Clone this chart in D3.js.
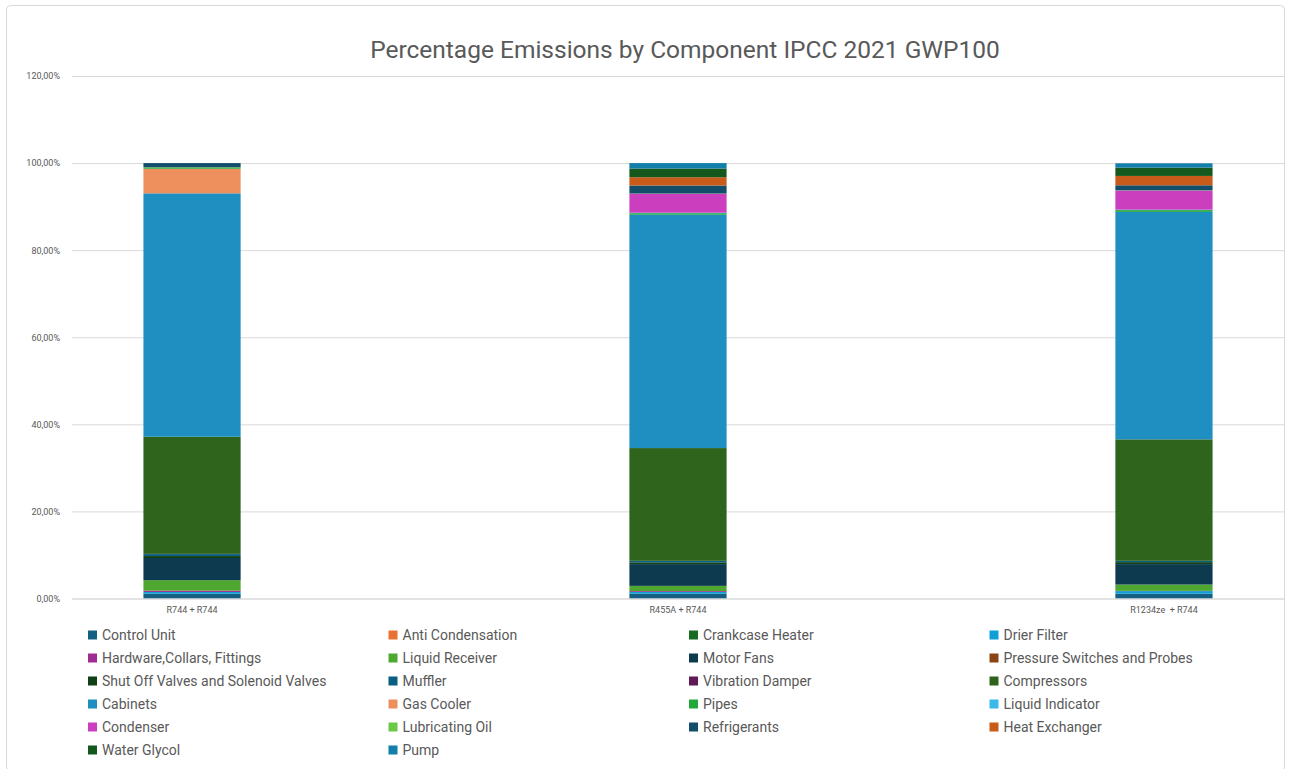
<!DOCTYPE html>
<html>
<head>
<meta charset="utf-8">
<script src="https://cdn.jsdelivr.net/npm/d3@7"></script>
<style>
  html, body { margin: 0; padding: 0; background: #ffffff; }
  svg { display: block; }
  text { font-family: Roboto, "Liberation Sans", sans-serif; fill: #595959; }
</style>
</head>
<body>
<svg id="chart" width="1290" height="769"></svg>
<script>
// Systems compared
const categories = ["R744 + R744", "R455A + R744", "R1234ze  + R744"];

// Components, in stacking order (bottom to top)
const components = [
  "Control Unit", "Anti Condensation", "Crankcase Heater", "Drier Filter",
  "Hardware,Collars, Fittings", "Liquid Receiver", "Motor Fans", "Pressure Switches and Probes",
  "Shut Off Valves and Solenoid Valves", "Muffler", "Vibration Damper", "Compressors",
  "Cabinets", "Gas Cooler", "Pipes", "Liquid Indicator",
  "Condenser", "Lubricating Oil", "Refrigerants", "Heat Exchanger",
  "Water Glycol", "Pump"
];

// Share of emissions per component (%), same order as components
const r744Shares = [
  1.1, 0, 0, 0.4,
  0.3, 2.4, 5.1, 0,
  0.45, 0.45, 0.05, 26.9,
  55.9, 5.65, 0.3, 0,
  0, 0.05, 0.95, 0,
  0, 0
];
const r455aShares = [
  1.1, 0, 0, 0.4,
  0.2, 1.2, 5.0, 0,
  0.4, 0.35, 0, 25.9,
  53.6, 0, 0.35, 0.1,
  4.35, 0.05, 1.85, 1.9,
  2.0, 1.25
];
const r1234zeShares = [
  1.1, 0, 0, 0.6,
  0.05, 1.45, 4.7, 0,
  0.45, 0.3, 0, 27.9,
  52.25, 0, 0.4, 0.1,
  4.4, 0.05, 1.15, 2.15,
  1.9, 1.0
];

const yTicks = [0, 20, 40, 60, 80, 100, 120];

// Series colours
const componentColors = [
  "#156082", "#E97132", "#196B24", "#0F9ED5",
  "#A02B93", "#4EA72E", "#0E3A4F", "#8B4413",
  "#0F4016", "#095F80", "#601A58", "#2F641C",
  "#1F8FC2", "#EE8F5E", "#22A83A", "#3CB9EB",
  "#CB3FBF", "#6BC948", "#124E6A", "#C85A1A",
  "#15581D", "#127FAB"
];

const svg = d3.select("#chart");
const W = 1290, H = 769;

// chart frame
svg.append("rect")
  .attr("x", 6.5).attr("y", 5.5)
  .attr("width", W - 12).attr("height", H - 4)
  .attr("rx", 4)
  .attr("fill", "#ffffff")
  .attr("stroke", "#d9d9d9");

// title
svg.append("text")
  .attr("x", 685).attr("y", 58)
  .attr("text-anchor", "middle")
  .style("font-size", "24.5px")
  .text("Percentage Emissions by Component IPCC 2021 GWP100");

const plot = { left: 72, right: 1284, top: 76, bottom: 598.5 };

const y = d3.scaleLinear().domain([0, 120]).range([plot.bottom, plot.top]);
const x = d3.scaleBand()
  .domain(categories)
  .range([plot.left, plot.right])
  .paddingInner(0.8)
  .paddingOuter(0.147);

// gridlines + y labels
const yAxis = d3.axisLeft(y)
  .tickValues(yTicks)
  .tickSize(-(plot.right - plot.left))
  .tickPadding(12)
  .tickFormat(d => d.toFixed(2).replace(".", ",") + "%");

const gy = svg.append("g")
  .attr("transform", `translate(${plot.left},0)`)
  .call(yAxis);
gy.select(".domain").remove();
gy.selectAll(".tick line").attr("stroke", "#d9d9d9");
gy.selectAll(".tick text").style("font-size", "9px").attr("fill", "#595959")
  .style("font-family", "Roboto, 'Liberation Sans', sans-serif");

// stacked bars
const rows = categories.map((c, i) => {
  const src = [r744Shares, r455aShares, r1234zeShares][i];
  const row = { category: c };
  components.forEach((k, j) => { row[k] = src[j]; });
  return row;
});
const stacked = d3.stack().keys(components)(rows);

svg.append("g").selectAll("g")
  .data(stacked)
  .join("g")
  .attr("fill", (d, i) => componentColors[i])
  .selectAll("rect")
  .data(d => d)
  .join("rect")
  .attr("x", d => x(d.data.category))
  .attr("width", x.bandwidth())
  .attr("y", d => y(d[1]))
  .attr("height", d => Math.max(0, y(d[0]) - y(d[1])));

// category axis
const xAxis = d3.axisBottom(x).tickSize(0).tickPadding(8);
const gx = svg.append("g")
  .attr("transform", `translate(0,${plot.bottom})`)
  .call(xAxis);
gx.select(".domain").attr("stroke", "#d9d9d9");
gx.selectAll(".tick text").style("font-size", "9px").attr("fill", "#595959")
  .style("white-space", "pre")
  .style("font-family", "Roboto, 'Liberation Sans', sans-serif");

// legend, four columns
const legendCols = 4, colW = 300.5, rowH = 23;
const legend = svg.append("g").attr("transform", "translate(88,635)");
const items = legend.selectAll("g")
  .data(components)
  .join("g")
  .attr("transform", (d, i) => `translate(${(i % legendCols) * colW},${Math.floor(i / legendCols) * rowH})`);
items.append("rect")
  .attr("x", 0).attr("y", -4.5)
  .attr("width", 9).attr("height", 9)
  .attr("fill", (d, i) => componentColors[i]);
items.append("text")
  .attr("x", 14).attr("y", 0)
  .attr("dy", "0.35em")
  .style("font-size", "14px")
  .text(d => d);
</script>
</body>
</html>
